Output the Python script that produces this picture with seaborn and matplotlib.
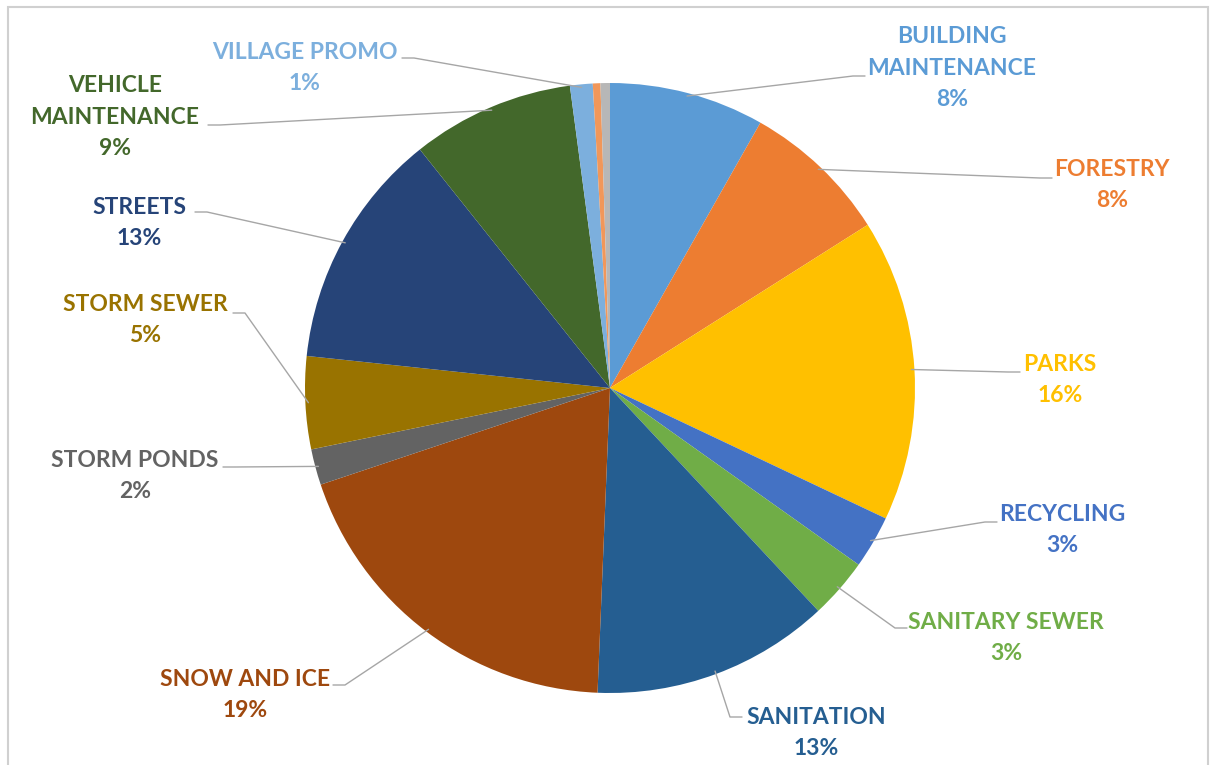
import numpy as np
import matplotlib
matplotlib.use("Agg")
import matplotlib.pyplot as plt
import seaborn as sns
from matplotlib.patches import Rectangle

# Data (share of budget), clockwise from 12 o'clock
categories = [
    "BUILDING\nMAINTENANCE", "FORESTRY", "PARKS", "RECYCLING", "SANITARY SEWER",
    "SANITATION", "SNOW AND ICE", "STORM PONDS", "STORM SEWER", "STREETS",
    "VEHICLE\nMAINTENANCE", "VILLAGE PROMO", "OTHER A", "OTHER B",
]
shares = [8.2, 7.8, 16.0, 2.8, 3.2, 12.6, 19.2, 1.9, 4.9, 12.6, 8.6, 1.2, 0.4, 0.5]
show_label = [True] * 12 + [False, False]

colors = [
    "#5B9BD5", "#ED7D31", "#FFC000", "#4472C4", "#70AD47", "#255E91", "#9E480E",
    "#636363", "#997300", "#264478", "#43682B", "#7CAFDD", "#F1975A", "#B7B7B7",
]

# Layout in pixels of the 1212x765 image
W, H = 1212, 765
CX, CY, R = 610, 388, 305

# label centre (x, y) and leader line end point next to the text
label_pos = [
    (952, 68), (1112, 185), (1060, 380), (1062, 530), (1006, 638),
    (816, 733), (245, 695), (135, 476), (145, 320), (139, 223),
    (115, 117), (305, 68), None, None,
]
line_end = [
    (865, 76), (1052, 178), (1020, 372), (997, 522), (907, 628),
    (742, 717), (333, 685), (223, 467), (233, 313), (195, 212),
    (208, 125), (402, 58), None, None,
]


def px(x, y):
    return (x - CX) / R, (CY - y) / R


sns.set_theme(style="white")
plt.rcParams["font.family"] = ["Lato", "DejaVu Sans"]

fig = plt.figure(figsize=(W / 100, H / 100), dpi=100)
ax = fig.add_axes([0, 0, 1, 1])

# chart frame
fig.patches.append(Rectangle((8 / W, -0.05), (1208 - 8) / W, 1.05 - 7 / H,
                             transform=fig.transFigure, fill=False,
                             edgecolor="#D0D0D0", linewidth=1.5))

wedges, _ = ax.pie(shares, colors=colors, startangle=90, counterclock=False,
                   radius=1.0, wedgeprops=dict(linewidth=0))

# pie() resets the limits, so set them afterwards
ax.set_xlim(-CX / R, (W - CX) / R)
ax.set_ylim(-(H - CY) / R, CY / R)
ax.set_aspect("equal")
ax.axis("off")

total = sum(shares)
for w, name, val, show, c, lp, le in zip(wedges, categories, shares, show_label,
                                         colors, label_pos, line_end):
    if not show:
        continue
    mid = np.deg2rad((w.theta1 + w.theta2) / 2)
    sx, sy = np.cos(mid) * 0.99, np.sin(mid) * 0.99
    ex, ey = px(*le)
    right = lp[0] > le[0]
    bx = ex - (12 / R if right else -12 / R)
    ax.plot([sx, bx, ex], [sy, ey, ey], color="#A6A6A6", lw=1, zorder=1)
    tx, ty = px(*lp)
    pct = f"{round(val / total * 100):d}%"
    ax.text(tx, ty, f"{name}\n{pct}", ha="center", va="center", color=c,
            fontsize=16.5, fontweight="bold", linespacing=1.62)

fig.savefig("out.png", dpi=100)
